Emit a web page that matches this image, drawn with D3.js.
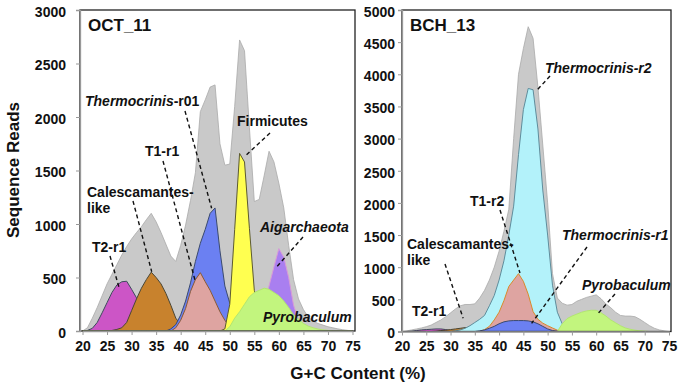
<!DOCTYPE html>
<html>
<head>
<meta charset="utf-8">
<script src="https://cdn.jsdelivr.net/npm/d3@7"></script>
<style>
  body { margin: 0; background: #fff; }
  svg text { font-family: Arial, "Liberation Sans", sans-serif; font-weight: bold; fill: #111; }
</style>
</head>
<body>
<div id="chart"></div>
<script>
// G+C content categories (%)
var gc = [20,21,22,23,24,25,26,27,28,29,30,31,32,33,34,35,36,37,38,39,
          40,41,42,43,44,45,46,47,48,49,50,51,52,53,54,55,56,57,58,59,
          60,61,62,63,64,65,66,67,68,69,70,71,72,73,74,75];
var xTicks = [20,25,30,35,40,45,50,55,60,65,70,75];

// OCT_11 sequence reads per G+C bin
var octTotal = [0,30,120,220,330,440,530,620,710,790,
                860,920,975,1040,1100,1020,920,810,700,650,
                800,990,1220,1480,2050,2160,2280,2300,1750,1550,
                1560,2100,2720,2620,1900,1210,1230,1450,1680,1580,
                1380,1150,800,480,300,200,130,90,70,55,
                40,30,20,12,6,0];
var octT2r1 = [0,5,25,80,170,265,360,430,460,465,
               390,310,210,130,70,35,15,5,0,0,
               0,0,0,0,0,0,0,0,0,0,
               0,0,0,0,0,0,0,0,0,0,
               0,0,0,0,0,0,0,0,0,0,
               0,0,0,0,0,0];
var octCalesc = [0,0,0,0,0,0,5,15,30,80,
                 190,300,400,480,550,500,440,350,240,120,
                 60,40,25,15,8,0,0,0,0,0,
                 0,0,0,0,0,0,0,0,0,0,
                 0,0,0,0,0,0,0,0,0,0,
                 0,0,0,0,0,0];
var octThermo = [0,0,0,0,0,0,0,0,0,0,
                 0,0,0,0,0,0,0,0,20,60,
                 150,280,450,650,820,950,1100,1150,750,420,
                 260,120,50,15,5,0,0,0,0,0,
                 0,0,0,0,0,0,0,0,0,0,
                 0,0,0,0,0,0];
var octT1r1 = [0,0,0,0,0,0,0,0,0,0,
               0,0,0,0,0,0,0,0,0,30,
               100,210,370,480,545,460,380,280,180,100,
               40,10,0,0,0,0,0,0,0,0,
               0,0,0,0,0,0,0,0,0,0,
               0,0,0,0,0,0];
var octFirm = [0,0,0,0,0,0,0,0,0,0,
               0,0,0,0,0,0,0,0,0,0,
               0,0,0,0,0,0,0,0,0,20,
               250,950,1660,1580,960,380,150,50,10,0,
               0,0,0,0,0,0,0,0,0,0,
               0,0,0,0,0,0];
var octAigar = [0,0,0,0,0,0,0,0,0,0,
                0,0,0,0,0,0,0,0,0,0,
                0,0,0,0,0,0,0,0,0,0,
                0,0,0,0,0,0,100,250,420,600,
                770,690,500,240,100,40,10,0,0,0,
                0,0,0,0,0,0];
var octPyro = [0,0,0,0,0,0,0,0,0,0,
               0,0,0,0,0,0,0,0,0,0,
               0,0,0,0,0,0,0,0,0,0,
               40,120,180,250,320,360,380,400,390,360,
               330,280,220,150,110,70,45,30,18,10,
               5,0,0,0,0,0];

// BCH_13 sequence reads per G+C bin
var bchTotal = [0,10,25,40,55,75,100,140,180,230,
                290,350,400,420,420,430,520,640,800,1000,
                1250,1560,1900,3000,4000,4400,4740,4560,3800,2900,
                2000,900,520,440,410,420,470,500,530,550,
                570,510,430,370,300,250,240,240,230,190,
                140,90,50,25,10,0];
var bchT2r1 = [0,0,5,15,25,30,35,40,40,30,
               15,5,0,0,0,0,0,0,0,0,
               0,0,0,0,0,0,0,0,0,0,
               0,0,0,0,0,0,0,0,0,0,
               0,0,0,0,0,0,0,0,0,0,
               0,0,0,0,0,0];
var bchCalesc = [0,0,0,0,0,0,0,5,15,20,
                 30,40,50,60,65,50,35,20,10,5,
                 0,0,0,0,0,0,0,0,0,0,
                 0,0,0,0,0,0,0,0,0,0,
                 0,0,0,0,0,0,0,0,0,0,
                 0,0,0,0,0,0];
var bchThermo2 = [0,0,0,0,0,0,0,0,0,0,
                  0,10,25,50,90,140,190,250,400,560,
                  800,1100,1500,1950,2750,3450,3780,3760,3150,2200,
                  1500,720,300,120,40,10,0,0,0,0,
                  0,0,0,0,0,0,0,0,0,0,
                  0,0,0,0,0,0];
var bchT1r2 = [0,0,0,0,0,0,0,0,0,0,
               0,0,0,0,0,0,0,30,80,180,
               300,480,700,800,900,780,580,310,190,130,
               90,55,20,0,0,0,0,0,0,0,
               0,0,0,0,0,0,0,0,0,0,
               0,0,0,0,0,0];
var bchThermo1 = [0,0,0,0,0,0,0,0,0,0,
                  0,0,0,0,0,0,10,25,50,80,
                  120,150,165,170,170,170,165,150,120,80,
                  40,15,5,0,0,0,0,0,0,0,
                  0,0,0,0,0,0,0,0,0,0,
                  0,0,0,0,0,0];
var bchPyro = [0,0,0,0,0,0,0,0,0,0,
               0,0,0,0,0,0,0,0,0,0,
               0,0,0,0,0,0,0,0,0,0,
               0,0,0,120,200,240,270,300,320,330,
               330,290,240,180,135,90,55,35,20,10,
               5,0,0,0,0,0];

// Panel setup
let svg = d3.select("#chart")
     .append("svg")
     .attr("width", 680)
     .attr("height", 386);

var panels = [
  {
    title: "OCT_11", box: [80, 10, 355, 331], xRange: [82.5, 352.5],
    yMax: 3000, yTicks: [0,500,1000,1500,2000,2500,3000], tickPad: 10,
    total: octTotal,
    series: [
      {values: octT2r1, fill: "#cc55c6", stroke: "#3e4a5c"},
      {values: octCalesc, fill: "#c8822d", stroke: "#4a4634"},
      {values: octThermo, fill: "#6b80f2", stroke: "#3b4a6e"},
      {values: octT1r1, fill: "#dea4a1", stroke: "#8a5a34"},
      {values: octFirm, fill: "#ffff50", stroke: "#5c5a30"},
      {values: octAigar, fill: "#a97ff0", stroke: "#d89ad8"},
      {values: octPyro, fill: "#c2f57e", stroke: "#b2e670"}
    ],
    labels: [
      {parts: [["Thermocrinis", true], ["-r01", false]], x: 85, y: 106, from: [185, 111], to: [46.3, 1147]},
      {parts: [["Firmicutes", false]], x: 237, y: 126, from: [270, 133], to: [53.4, 1646]},
      {parts: [["T1-r1", false]], x: 145, y: 156, from: [163, 161], to: [42.9, 477]},
      {parts: [["Calescamantes-", false]], x: 87, y: 197, from: [133, 201], to: [34.1, 554]},
      {parts: [["like", false]], x: 87, y: 213},
      {parts: [["T2-r1", false]], x: 92, y: 252, from: [110, 256], to: [27.4, 414]},
      {parts: [["Aigarchaeota", true]], x: 260, y: 232, from: [303, 237], to: [59.6, 601]},
      {parts: [["Pyrobaculum", true]], x: 263, y: 322}
    ]
  },
  {
    title: "BCH_13", box: [402, 10, 671, 331.5], xRange: [402, 669],
    yMax: 5000, yTicks: [0,500,1000,1500,2000,2500,3000,3500,4000,4500,5000], tickPad: 3,
    total: bchTotal,
    series: [
      {values: bchT2r1, fill: "#cc55c6", stroke: "#3e4a5c"},
      {values: bchCalesc, fill: "#c8822d", stroke: "#4a4634"},
      {values: bchThermo2, fill: "#b3f2fa", stroke: "#5f8d9c"},
      {values: bchT1r2, fill: "#dea4a1", stroke: "#d98a2a"},
      {values: bchThermo1, fill: "#6b80f2", stroke: "#3b4a6e"},
      {values: bchPyro, fill: "#c2f57e", stroke: "#b2e670"}
    ],
    labels: [
      {parts: [["Thermocrinis-r2", true]], x: 545, y: 73, from: [550, 76], to: [47.7, 3744]},
      {parts: [["T1-r2", false]], x: 470, y: 206, from: [500, 210], to: [44.3, 910]},
      {parts: [["Calescamantes-", false]], x: 407, y: 249},
      {parts: [["like", false]], x: 407, y: 265, from: [445, 264], to: [32.6, 205]},
      {parts: [["T2-r1", false]], x: 412, y: 316},
      {parts: [["Thermocrinis-r1", true]], x: 562, y: 240, from: [587, 247], to: [46.7, 127]},
      {parts: [["Pyrobaculum", true]], x: 582, y: 290, from: [615, 294], to: [60.1, 255]}
    ]
  }
];

panels.forEach(function(p) {
  let x = d3.scaleLinear().domain([20, 75]).range(p.xRange);
  let y = d3.scaleLinear().domain([0, p.yMax]).range([p.box[3], p.box[1]]);
  let g = svg.append("g");

  let area = d3.area()
       .x(function(d, i) { return x(gc[i]); })
       .y0(y(0))
       .y1(function(d) { return y(d); });

  // total reads in grey, taxa on top
  g.append("path")
       .attr("d", area(p.total))
       .attr("fill", "#c9c9c9")
       .attr("stroke", "#aaaaaa")
       .attr("stroke-width", 0.8);

  p.series.forEach(function(s) {
    g.append("path")
         .attr("d", area(s.values))
         .attr("fill", s.fill)
         .attr("stroke", s.stroke)
         .attr("stroke-width", 1);
  });

  // frame
  g.append("rect")
       .attr("x", p.box[0])
       .attr("y", p.box[1])
       .attr("width", p.box[2] - p.box[0])
       .attr("height", p.box[3] - p.box[1])
       .attr("fill", "none")
       .attr("stroke", "#222")
       .attr("stroke-width", 1.3);

  // axes (plain numbers, no thousands separator)
  let yAxis = g.append("g")
       .attr("transform", "translate(" + p.box[0] + ",0)")
       .call(d3.axisLeft(y).tickValues(p.yTicks).tickFormat(d3.format("d"))
             .tickSize(4).tickPadding(p.tickPad));
  let xAxis = g.append("g")
       .attr("transform", "translate(0," + p.box[3] + ")")
       .call(d3.axisBottom(x).tickValues(xTicks).tickFormat(d3.format("d"))
             .tickSize(4).tickPadding(6).tickSizeOuter(0));
  [yAxis, xAxis].forEach(function(a) {
    a.select(".domain").attr("stroke", "#999").attr("stroke-width", 1.3);
    a.selectAll(".tick line").attr("stroke", "#999");
    a.selectAll("text").style("font-size", "14px").attr("fill", "#111");
  });
  yAxis.selectAll("text").attr("dy", "0.45em");

  // panel title
  g.append("text")
       .attr("x", p.box[0] + 8)
       .attr("y", 31)
       .style("font-size", "17px")
       .text(p.title);

  // labels with dashed leaders
  p.labels.forEach(function(l) {
    let t = g.append("text")
         .attr("x", l.x)
         .attr("y", l.y)
         .style("font-size", "14px");
    l.parts.forEach(function(pt) {
      t.append("tspan")
           .style("font-style", pt[1] ? "italic" : "normal")
           .text(pt[0]);
    });
    if (l.from) {
      g.append("line")
           .attr("x1", l.from[0])
           .attr("y1", l.from[1])
           .attr("x2", x(l.to[0]))
           .attr("y2", y(l.to[1]))
           .attr("stroke", "#111")
           .attr("stroke-width", 1.4)
           .attr("stroke-dasharray", "4,3");
    }
  });
});

// axis titles
svg.append("text")
     .attr("transform", "translate(19,170) rotate(-90)")
     .attr("text-anchor", "middle")
     .style("font-size", "17px")
     .text("Sequence Reads");

svg.append("text")
     .attr("x", 358)
     .attr("y", 379)
     .attr("text-anchor", "middle")
     .style("font-size", "17px")
     .text("G+C Content (%)");
</script>
</body>
</html>
